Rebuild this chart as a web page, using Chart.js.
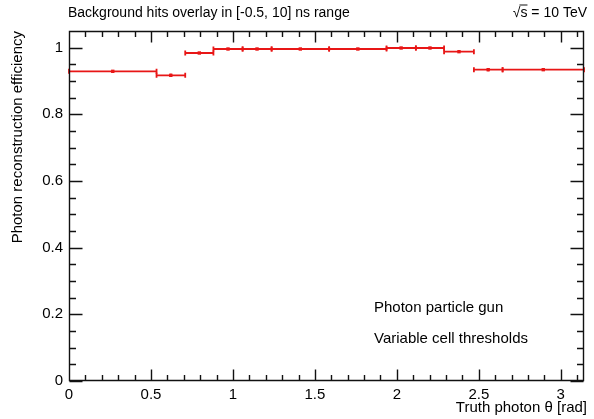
<!DOCTYPE html>
<html>
<head>
<meta charset="utf-8">
<script src="https://cdn.jsdelivr.net/npm/chart.js@4/dist/chart.umd.min.js"></script>
<style>
  html, body { margin: 0; padding: 0; background: #fff; }
  canvas { display: block; }
</style>
</head>
<body>
<canvas id="c" width="594" height="419"></canvas>
<script>
// ---- data ----
const binLow     = [0.000, 0.534, 0.709, 0.881, 1.059, 1.236, 1.587, 1.937, 2.116, 2.288, 2.470, 2.645];
const binHigh    = [0.534, 0.709, 0.881, 1.059, 1.236, 1.587, 1.937, 2.116, 2.288, 2.470, 2.645, 3.1416];
const binCenter  = [0.267, 0.621, 0.795, 0.970, 1.147, 1.411, 1.762, 2.026, 2.202, 2.379, 2.557, 2.893];
const efficiency = [0.929, 0.917, 0.984, 0.996, 0.996, 0.996, 0.996, 0.999, 0.999, 0.988, 0.934, 0.934];
const effError   = [0.002, 0.005, 0.002, 0.001, 0.001, 0.001, 0.001, 0.001, 0.001, 0.002, 0.005, 0.002];
const xTickValues = [0, 0.5, 1, 1.5, 2, 2.5, 3];
const yTickValues = [0, 0.2, 0.4, 0.6, 0.8, 1];

const titleText  = "Background hits overlay in [-0.5, 10] ns range";
const energyText = "\u221As = 10 TeV";
const xTitle = "Truth photon \u03B8 [rad]";
const yTitle = "Photon reconstruction efficiency";
const label1 = "Photon particle gun";
const label2 = "Variable cell thresholds";

const RED = "rgb(232,22,22)";
const FONT = "'Liberation Sans', Arial, Helvetica, sans-serif";

Chart.defaults.font.family = FONT;

const points = binCenter.map((x, i) => ({ x: x, y: efficiency[i] }));

const rootStyle = {
  id: "rootStyle",
  beforeDatasetsDraw(chart) {
    const ctx = chart.ctx;
    const xs = chart.scales.x, ys = chart.scales.y;
    ctx.save();
    ctx.strokeStyle = RED;
    ctx.lineWidth = 1.8;
    for (let i = 0; i < binCenter.length; i++) {
      const xl = xs.getPixelForValue(binLow[i]);
      const xh = xs.getPixelForValue(binHigh[i]);
      const y = ys.getPixelForValue(efficiency[i]);
      const yl = ys.getPixelForValue(efficiency[i] - effError[i]);
      const yh = ys.getPixelForValue(efficiency[i] + effError[i]);
      const xc = xs.getPixelForValue(binCenter[i]);
      ctx.beginPath();
      ctx.moveTo(xl, y); ctx.lineTo(xh, y);
      ctx.moveTo(xl, y - 2.5); ctx.lineTo(xl, y + 2.5);
      ctx.moveTo(xh, y - 2.5); ctx.lineTo(xh, y + 2.5);
      ctx.moveTo(xc, yl); ctx.lineTo(xc, yh);
      ctx.stroke();
    }
    ctx.restore();
  },
  afterDraw(chart) {
    const ctx = chart.ctx;
    const a = chart.chartArea;
    const xs = chart.scales.x, ys = chart.scales.y;
    const L = Math.round(a.left) + 0.5, R = Math.round(a.right) - 0.5;
    const T = Math.round(a.top) + 0.5, B = Math.round(a.bottom) - 0.5;
    ctx.save();
    ctx.strokeStyle = "#111";
    ctx.lineWidth = 1.4;
    ctx.beginPath();
    // frame
    ctx.moveTo(L, T); ctx.lineTo(R, T); ctx.lineTo(R, B); ctx.lineTo(L, B); ctx.closePath();
    // x ticks (bottom and top)
    for (let k = 0; k <= 31; k++) {
      const px = Math.round(xs.getPixelForValue(k * 0.1)) + 0.5;
      const len = (k % 5 === 0) ? 11 : 5.5;
      ctx.moveTo(px, B); ctx.lineTo(px, B - len);
      ctx.moveTo(px, T); ctx.lineTo(px, T + len);
    }
    // y ticks (left and right)
    for (let k = 0; k <= 21; k++) {
      const py = Math.round(ys.getPixelForValue(k * 0.05)) + 0.5;
      const len = (k % 4 === 0) ? 13 : 6.5;
      ctx.moveTo(L, py); ctx.lineTo(L + len, py);
      ctx.moveTo(R, py); ctx.lineTo(R - len, py);
    }
    ctx.stroke();

    // texts
    ctx.fillStyle = "#000";
    ctx.font = "14px " + FONT;
    ctx.textBaseline = "middle";
    ctx.textAlign = "left";
    ctx.fillText(titleText, 68, 13);
    ctx.font = "14px " + FONT;
    ctx.textAlign = "right";
    ctx.fillText(energyText, 587, 13);
    // overline above the s of sqrt(s)
    const wFull = ctx.measureText(energyText).width;
    const wRoot = ctx.measureText("\u221A").width;
    const wS = ctx.measureText("s").width;
    const sx = 587 - wFull + wRoot - 1;
    ctx.beginPath();
    ctx.lineWidth = 1;
    ctx.moveTo(sx, 5); ctx.lineTo(sx + wS + 1, 5);
    ctx.stroke();

    ctx.font = "15px " + FONT;
    ctx.textAlign = "right";
    ctx.fillText(xTitle, 587, 408);

    ctx.save();
    ctx.translate(18, 31);
    ctx.rotate(-Math.PI / 2);
    ctx.textAlign = "right";
    ctx.fillText(yTitle, 0, 0);
    ctx.restore();

    ctx.textAlign = "left";
    ctx.fillText(label1, 374, 308);
    ctx.fillText(label2, 374, 339);
    ctx.restore();
  }
};

new Chart(document.getElementById("c"), {
  type: "scatter",
  data: {
    datasets: [{
      data: points,
      pointStyle: "rect",
      pointRadius: 2.4,
      pointHoverRadius: 2.4,
      backgroundColor: RED,
      borderColor: RED,
      borderWidth: 0,
      showLine: false
    }]
  },
  options: {
    responsive: false,
    devicePixelRatio: 1,
    animation: false,
    events: [],
    layout: { padding: { top: 31, right: 10, left: 0, bottom: 0 } },
    plugins: { legend: { display: false }, tooltip: { enabled: false } },
    scales: {
      x: {
        type: "linear",
        min: 0,
        max: Math.PI,
        grid: { display: false, drawTicks: false },
        border: { display: false },
        afterBuildTicks: (s) => { s.ticks = xTickValues.map(v => ({ value: v })); },
        afterFit: (s) => { s.height = 38; },
        ticks: {
          color: "#000",
          padding: 5,
          maxRotation: 0,
          autoSkip: false,
          font: { size: 15, family: FONT },
          callback: (v) => String(v)
        }
      },
      y: {
        type: "linear",
        min: 0,
        max: 1.05,
        grid: { display: false, drawTicks: false },
        border: { display: false },
        afterBuildTicks: (s) => { s.ticks = yTickValues.map(v => ({ value: v })); },
        afterFit: (s) => { s.width = 69; },
        ticks: {
          color: "#000",
          padding: 6,
          autoSkip: false,
          font: { size: 15, family: FONT },
          callback: (v) => String(Math.round(v * 10) / 10)
        }
      }
    }
  },
  plugins: [rootStyle]
});
</script>
</body>
</html>
